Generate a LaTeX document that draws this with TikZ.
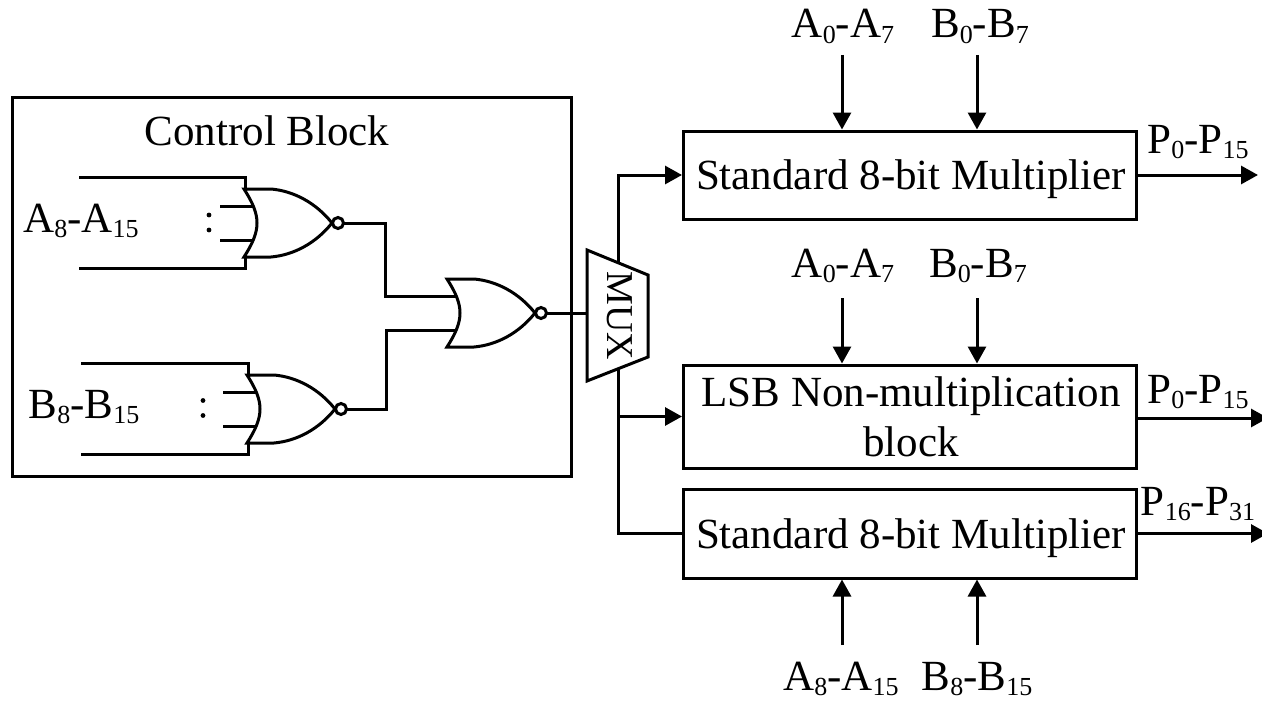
\documentclass[tikz,border=0pt]{standalone}
\usepackage{fontspec}
\setmainfont{Liberation Serif}
\usetikzlibrary{arrows.meta}
\newcommand{\sbs}[1]{\raisebox{-5.5pt}{\fontsize{26}{26}\selectfont #1}}
\tikzset{
  wire/.style={line width=3pt,line join=miter},
  arr/.style={wire,-{Triangle[length=17pt,width=18pt,inset=0pt,sep=0pt]}},
  box/.style={draw,line width=3pt,inner sep=0pt,minimum width=453pt,align=center},
  lab/.style={inner sep=0pt,anchor=base,font=\fontsize{43}{50}\selectfont},
  norgate/.pic={
    \draw[wire] (0,0) -- (27,0) .. controls (50,2) and (72,14) .. (88,34)
      .. controls (72,54) and (50,66) .. (27,68) -- (0,68)
      .. controls (9,54) and (13,44) .. (13,34) .. controls (13,24) and (9,14) .. (0,0) -- cycle;
    \draw[wire,fill=white] (94,34) circle (5.5);
    \coordinate (-tl) at (1,0);
    \coordinate (-bl) at (1,68);
    \coordinate (-i1) at (9,17);
    \coordinate (-i2) at (9,51);
    \coordinate (-out) at (99.5,34);
  }
}
\begin{document}
\begin{tikzpicture}[x=1pt,y=-1pt]
\useasboundingbox (0,0) rectangle (1262,701);
\clip (0,0) rectangle (1262,701);
% control block
\node[draw,line width=3pt,inner sep=0pt,minimum width=559pt,minimum height=378pt] (ctrl) at (291.5,287) {};
\node[lab] (ctl) at (267,145) {Control Block};
% gates
\pic (g1) at (244,189) {norgate};
\pic (g2) at (247,375) {norgate};
\pic (g3) at (447,279) {norgate};
% gate inputs
\coordinate (a1) at (79,177);
\coordinate (a2) at (79,268);
\coordinate (a3) at (220,206);
\coordinate (a4) at (220,240);
\coordinate (b1) at (81,363);
\coordinate (b2) at (81,454);
\coordinate (b3) at (223,392);
\coordinate (b4) at (223,426);
\draw[wire] (a1) -| (g1-tl);
\draw[wire] (a2) -| (g1-bl);
\draw[wire] (a3) -- (g1-i1);
\draw[wire] (a4) -- (g1-i2);
\draw[wire] (b1) -| (g2-tl);
\draw[wire] (b2) -| (g2-bl);
\draw[wire] (b3) -- (g2-i1);
\draw[wire] (b4) -- (g2-i2);
\fill (209,215) circle (2.4) (209,230) circle (2.4);
\fill (203,400.5) circle (2.4) (203,415.5) circle (2.4);
\node[lab] (la) at (81,232) {A\sbs{8}-A\sbs{15}};
\node[lab] (lb) at (84,418) {B\sbs{8}-B\sbs{15}};
% gate interconnect
\coordinate (j1) at (385,296);
\coordinate (j2) at (386,330);
\draw[wire] (g1-out) -| (j1) -- (g3-i1);
\draw[wire] (g2-out) -| (j2) -- (g3-i2);
% mux
\draw[wire] (587,250) -- (648,275) -- (648,357) -- (587,381) -- cycle;
\node[inner sep=0pt,rotate=-90,font=\fontsize{38}{38}\selectfont] (mux) at (620,316) {MUX};
\coordinate (muxin) at (587,313);
\coordinate (muxtop) at (618,262);
\coordinate (muxbot) at (618,369);
\coordinate (br) at (618,416.5);
\draw[wire] (g3-out) -- (muxin);
% blocks
\node[box,minimum height=88pt] (m1) at (910,175) {};
\node[box,minimum height=103pt] (m2) at (910,416.5) {};
\node[box,minimum height=89pt] (m3) at (910,533.5) {};
\node[lab] (t1) at (911,189) {Standard 8-bit Multiplier};
\node[lab,anchor=center,align=center] (t2) at (911,417) {LSB Non-multiplication\\block};
\node[lab] (t3) at (911,548) {Standard 8-bit Multiplier};
% mux outputs
\draw[arr] (muxtop) |- (m1.west);
\draw[wire] (muxbot) |- (m3.west);
\draw[arr] (br) -- (m2.west);
% top inputs
\node[lab] (l1) at (843,38) {A\sbs{0}-A\sbs{7}};
\node[lab] (l2) at (980,38) {B\sbs{0}-B\sbs{7}};
\node[lab] (l3) at (843,277) {A\sbs{0}-A\sbs{7}};
\node[lab] (l4) at (978,277) {B\sbs{0}-B\sbs{7}};
\node[lab] (l5) at (841,690) {A\sbs{8}-A\sbs{15}};
\node[lab] (l6) at (977,690) {B\sbs{8}-B\sbs{15}};
\coordinate (c1) at (842,55);
\coordinate (c2) at (977,55);
\coordinate (c3) at (842,298);
\coordinate (c4) at (977,298);
\coordinate (c5) at (842,645);
\coordinate (c6) at (977,645);
\draw[arr] (c1) -- (c1 |- m1.north);
\draw[arr] (c2) -- (c2 |- m1.north);
\draw[arr] (c3) -- (c3 |- m2.north);
\draw[arr] (c4) -- (c4 |- m2.north);
\draw[arr] (c5) -- (c5 |- m3.south);
\draw[arr] (c6) -- (c6 |- m3.south);
% outputs
\coordinate (o1) at (1258,175);
\coordinate (o2) at (1268,418);
\coordinate (o3) at (1268,533.5);
\draw[arr] (m1.east) -- (o1);
\draw[arr] (m2.east |- o2) -- (o2);
\draw[arr] (m3.east) -- (o3);
\node[lab] (p1) at (1198,153) {P\sbs{0}-P\sbs{15}};
\node[lab] (p2) at (1198,403) {P\sbs{0}-P\sbs{15}};
\node[lab] (p3) at (1198,515) {P\sbs{16}-P\sbs{31}};
\end{tikzpicture}
\end{document}
